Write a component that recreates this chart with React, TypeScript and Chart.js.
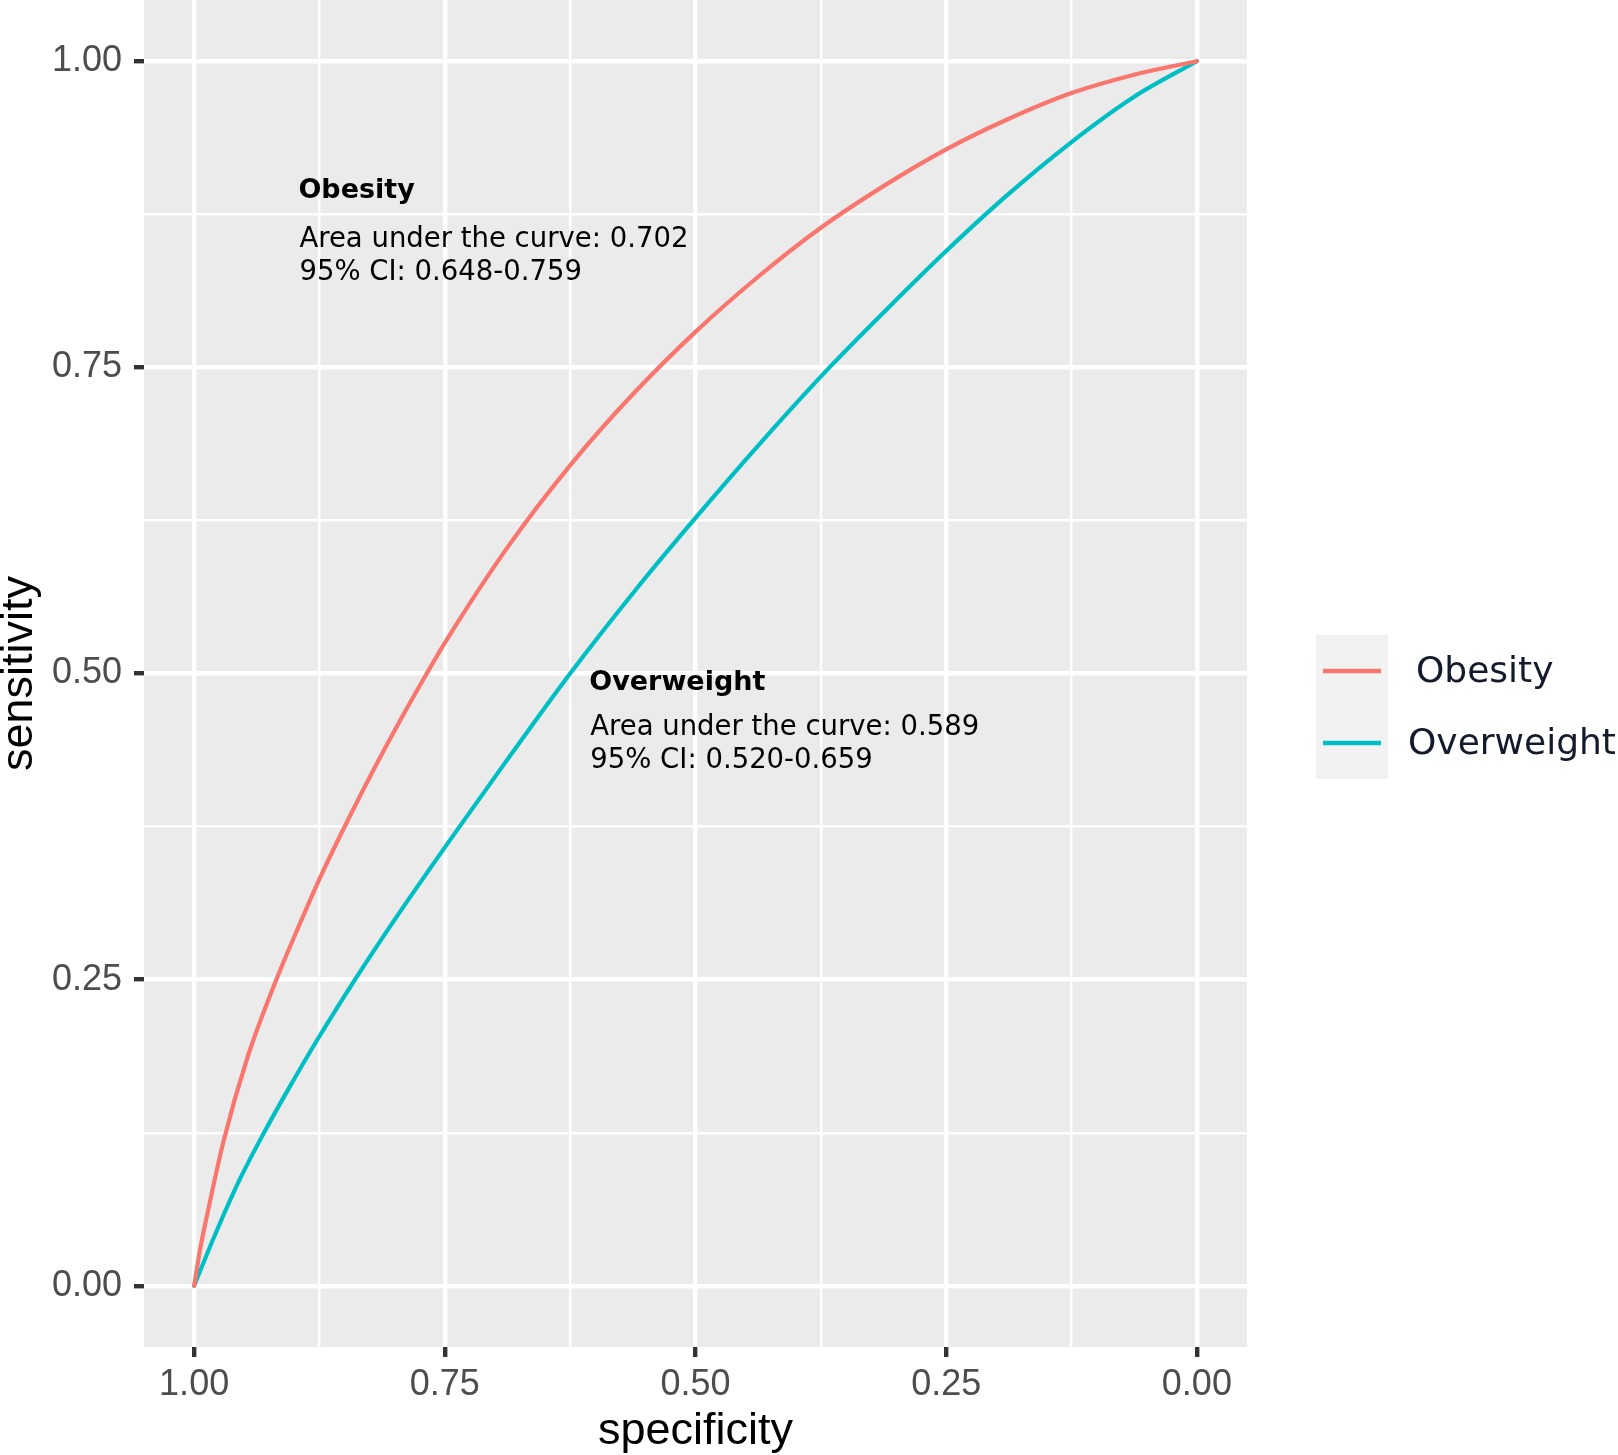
import { useEffect, useRef } from 'react';
import { Chart, registerables } from 'chart.js';

Chart.register(...registerables);

// ---- data ----
const SERIES_NAMES = ['Obesity', 'Overweight'];
const SERIES_COLORS = ['#F8766D', '#00BFC4'];

// false positive rate (1 - specificity) and sensitivity
const OBESITY_FPR = [0, 0.006, 0.013, 0.029, 0.053, 0.082, 0.104, 0.126, 0.155, 0.18, 0.205, 0.232, 0.25, 0.3125, 0.375, 0.4375, 0.5, 0.5625, 0.625, 0.6875, 0.75, 0.8125, 0.875, 0.9375, 1];
const OBESITY_SENSITIVITY = [0, 0.03, 0.058, 0.117, 0.186, 0.25, 0.293, 0.334, 0.383, 0.423, 0.461, 0.5, 0.525, 0.603, 0.67, 0.728, 0.779, 0.824, 0.864, 0.898, 0.928, 0.953, 0.974, 0.989, 1];

const OVERWEIGHT_FPR = [0, 0.02, 0.045, 0.069, 0.095, 0.12, 0.162, 0.2, 0.25, 0.31, 0.375, 0.44, 0.5, 0.57, 0.636, 0.7, 0.75, 0.81, 0.875, 0.9375, 1];
const OVERWEIGHT_SENSITIVITY = [0, 0.04, 0.086, 0.124, 0.162, 0.197, 0.252, 0.299, 0.358, 0.427, 0.5, 0.568, 0.627, 0.693, 0.752, 0.805, 0.845, 0.89, 0.934, 0.971, 1];

const MAJOR_TICKS = [0, 0.25, 0.5, 0.75, 1];
const MAJOR_TICK_LABELS = ['0.00', '0.25', '0.50', '0.75', '1.00'];
const MINOR_TICKS = [0.125, 0.375, 0.625, 0.875];
const AXIS_MIN = -0.05;
const AXIS_MAX = 1.05;

const X_TITLE = 'specificity';
const Y_TITLE = 'sensitivity';

const ANNOTATION_TITLES = ['Obesity', 'Overweight'];
const ANNOTATION_AUC = ['Area under the curve: 0.702', 'Area under the curve: 0.589'];
const ANNOTATION_CI = ['95% CI: 0.648-0.759', '95% CI: 0.520-0.659'];

// ---- layout / style ----
const W = 1618;
const H = 1455;
const PANEL_RIGHT = 1247;
const PANEL_BOTTOM = 1347;
const PANEL_LEFT = 144;
const TICK_FONT = '"Liberation Sans", Arial, sans-serif';
const ANNO_FONT = '"DejaVu Sans", Verdana, sans-serif';
// annotation anchors (title centre, in data units: specificity, sensitivity) and line offsets in px
const ANNO_LAYOUT = [
  { x: 0.896, y: 0.894, dy1: 48.5, dy2: 81.5 },
  { x: 0.606, y: 0.4925, dy1: 45, dy2: 78 },
];

const isMajor = (v: number) => MAJOR_TICKS.some((m) => Math.abs(m - v) < 1e-9);

const panelBackground = {
  id: 'panelBackground',
  beforeDraw(chart: any) {
    const { ctx, chartArea } = chart;
    ctx.save();
    ctx.fillStyle = '#EBEBEB';
    ctx.fillRect(chartArea.left, chartArea.top, chartArea.right - chartArea.left, chartArea.bottom - chartArea.top);
    ctx.restore();
  },
};

const annotationsAndLegend = {
  id: 'annotationsAndLegend',
  afterDraw(chart: any) {
    const { ctx } = chart;
    const xs = chart.scales.x;
    const ys = chart.scales.y;
    ctx.save();
    ctx.fillStyle = '#000000';
    ctx.textAlign = 'left';
    ctx.textBaseline = 'middle';
    ANNOTATION_TITLES.forEach((title, i) => {
      const L = ANNO_LAYOUT[i];
      const px = xs.getPixelForValue(L.x);
      const py = ys.getPixelForValue(L.y);
      ctx.font = `bold 27px ${ANNO_FONT}`;
      ctx.fillText(title, px, py);
      ctx.font = `27.5px ${ANNO_FONT}`;
      ctx.fillText(ANNOTATION_AUC[i], px + 1, py + L.dy1);
      ctx.fillText(ANNOTATION_CI[i], px + 1, py + L.dy2);
    });

    // legend
    const keyLeft = 1316;
    const keyTop = 635;
    const keyW = 72;
    const rowH = 72;
    const n = chart.data.datasets.length;
    ctx.fillStyle = '#F2F2F2';
    ctx.fillRect(keyLeft, keyTop, keyW, rowH * n);
    chart.data.datasets.forEach((ds: any, i: number) => {
      const cy = keyTop + 36 + rowH * i;
      ctx.strokeStyle = ds.borderColor;
      ctx.lineWidth = 4.5;
      ctx.beginPath();
      ctx.moveTo(keyLeft + 7, cy);
      ctx.lineTo(keyLeft + keyW - 7, cy);
      ctx.stroke();
      ctx.fillStyle = '#131a2b';
      ctx.font = `36px ${ANNO_FONT}`;
      ctx.textBaseline = 'middle';
      ctx.fillText(ds.label, i === 0 ? 1416 : 1408, cy + 2);
    });
    ctx.restore();
  },
};

function makePoints(fpr: number[], sens: number[]) {
  return fpr.map((f, i) => ({ x: 1 - f, y: sens[i] }));
}

export default function App() {
  const canvasRef = useRef<HTMLCanvasElement | null>(null);

  useEffect(() => {
    document.body.style.margin = '0';
    const canvas = canvasRef.current;
    if (!canvas) return;

    const allTicks = [...MAJOR_TICKS, ...MINOR_TICKS].sort((a, b) => a - b);

    const gridCommon = {
      color: '#FFFFFF',
      lineWidth: (c: any) => (c.tick && isMajor(c.tick.value) ? 4.4 : 2.4),
      drawTicks: true,
      tickLength: 10,
      tickWidth: 4.4,
      tickColor: (c: any) => (c.tick && isMajor(c.tick.value) ? '#333333' : 'rgba(0,0,0,0)'),
    };

    const tickLabel = (value: number) => {
      const idx = MAJOR_TICKS.findIndex((m) => Math.abs(m - value) < 1e-9);
      return idx >= 0 ? MAJOR_TICK_LABELS[idx] : '';
    };

    const lineStyle = {
      borderWidth: 4.2,
      pointRadius: 0,
      cubicInterpolationMode: 'monotone',
      fill: false,
      borderCapStyle: 'round',
      borderJoinStyle: 'round',
    };

    const chart = new Chart(canvas, {
      type: 'line',
      data: {
        datasets: [
          {
            label: SERIES_NAMES[0],
            data: makePoints(OBESITY_FPR, OBESITY_SENSITIVITY),
            borderColor: SERIES_COLORS[0],
            backgroundColor: SERIES_COLORS[0],
            ...lineStyle,
          },
          {
            label: SERIES_NAMES[1],
            data: makePoints(OVERWEIGHT_FPR, OVERWEIGHT_SENSITIVITY),
            borderColor: SERIES_COLORS[1],
            backgroundColor: SERIES_COLORS[1],
            ...lineStyle,
          },
        ],
      },
      options: {
        animation: false,
        responsive: false,
        devicePixelRatio: 1,
        layout: { padding: { left: 0, top: 0, right: W - PANEL_RIGHT, bottom: 0 } },
        plugins: {
          legend: { display: false },
          tooltip: { enabled: false },
        },
        scales: {
          x: {
            type: 'linear',
            reverse: true,
            min: AXIS_MIN,
            max: AXIS_MAX,
            afterBuildTicks: (scale: any) => {
              scale.ticks = allTicks.map((v) => ({ value: v }));
            },
            afterFit: (scale: any) => {
              scale.height = H - PANEL_BOTTOM;
              scale.paddingLeft = 0;
              scale.paddingRight = 0;
            },
            border: { display: false },
            grid: gridCommon as any,
            ticks: {
              autoSkip: false,
              maxRotation: 0,
              padding: 6,
              color: '#4D4D4D',
              font: { family: TICK_FONT, size: 36 },
              callback: (v: any) => tickLabel(Number(v)),
            },
            title: {
              display: true,
              text: X_TITLE,
              color: '#000000',
              font: { family: TICK_FONT, size: 45, lineHeight: 1 },
              padding: { top: 0, bottom: 1 },
            },
          },
          y: {
            type: 'linear',
            min: AXIS_MIN,
            max: AXIS_MAX,
            afterBuildTicks: (scale: any) => {
              scale.ticks = allTicks.map((v) => ({ value: v }));
            },
            afterFit: (scale: any) => {
              scale.width = PANEL_LEFT;
              scale.paddingTop = 0;
              scale.paddingBottom = 0;
            },
            border: { display: false },
            grid: gridCommon as any,
            ticks: {
              autoSkip: false,
              padding: 12,
              color: '#4D4D4D',
              font: { family: TICK_FONT, size: 36 },
              callback: (v: any) => tickLabel(Number(v)),
            },
            title: {
              display: true,
              text: Y_TITLE,
              color: '#000000',
              font: { family: TICK_FONT, size: 45, lineHeight: 0.85 },
              padding: { top: 0, bottom: 0 },
            },
          },
        },
      } as any,
      plugins: [panelBackground, annotationsAndLegend],
    });

    return () => {
      chart.destroy();
    };
  }, []);

  return (
    <div style={{ width: W, height: H, background: '#FFFFFF' }}>
      <canvas ref={canvasRef} width={W} height={H} style={{ display: 'block', width: W, height: H }} />
    </div>
  );
}
